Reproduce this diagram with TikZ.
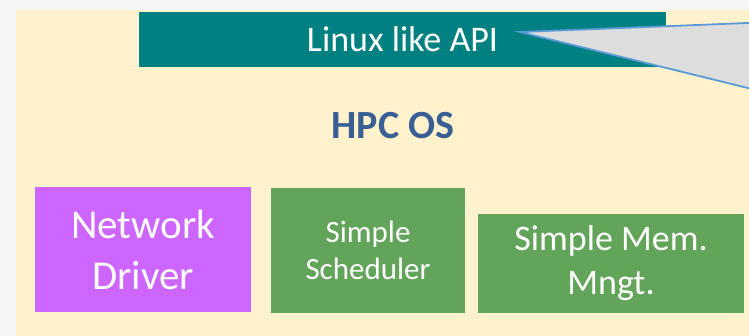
\documentclass[tikz,border=0pt]{standalone}
\usepackage{fontspec}
\setmainfont{Carlito}
\definecolor{bgmargin}{HTML}{F6F6F6}
\definecolor{cream}{HTML}{FFF2CC}
\definecolor{tealbox}{HTML}{008080}
\definecolor{purplebox}{HTML}{CC66FF}
\definecolor{greenbox}{HTML}{62A45A}
\definecolor{hpcblue}{HTML}{3A5F94}
\definecolor{calloutfill}{HTML}{DDDDDD}
\definecolor{calloutline}{HTML}{5B9BD5}
\tikzset{
  box/.style={draw=none, inner sep=0pt, align=center, text=white},
}
\begin{document}
\begin{tikzpicture}[x=1pt, y=-1pt]
\useasboundingbox (0,0) rectangle (749,336);
\clip (0,0) rectangle (749,336);
\fill[bgmargin] (0,0) rectangle (749,336);
\fill[cream] (16,10) rectangle (749,336);
% top API bar
\node[box, fill=tealbox, minimum width=527pt, minimum height=55pt,
      font=\fontsize{36}{44}\selectfont] (api) at (402.5,39.5) {Linux like API};
% callout
\coordinate (apex) at (520,32);
\coordinate (ctop) at (760,22.5);
\coordinate (cbot) at (760,91);
\filldraw[fill=calloutfill, draw=calloutline, line width=1.8pt, line join=miter]
  (apex) -- (ctop) -- (cbot) -- cycle;
% title
\node[anchor=base, text=hpcblue, inner sep=0pt,
      font=\fontsize{40}{48}\selectfont\bfseries] (hpc) at (393,139) {HPC OS};
% component boxes
\node[box, fill=purplebox, minimum width=216pt, minimum height=125pt,
      font=\fontsize{41}{51}\selectfont] (net) at (143,249.5) {Network\\Driver};
\node[box, fill=greenbox, minimum width=194pt, minimum height=125pt,
      font=\fontsize{31}{37}\selectfont] (sched) at (368,250.5) {Simple\\Scheduler};
\node[box, fill=greenbox, minimum width=266pt, minimum height=99pt,
      font=\fontsize{36}{44}\selectfont] (mem) at (611,263.5) {Simple Mem.\\Mngt.};
\end{tikzpicture}
\end{document}
